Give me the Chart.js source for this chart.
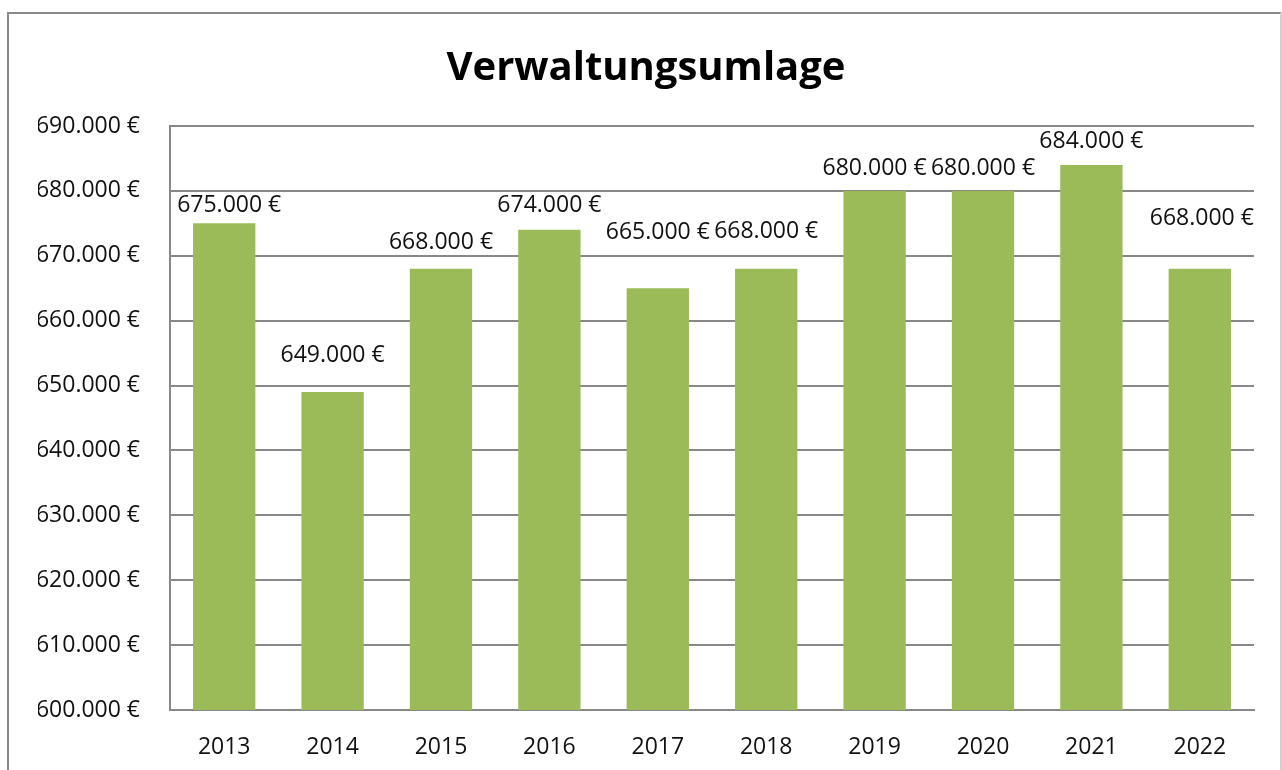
<!DOCTYPE html>
<html>
<head>
<meta charset="utf-8">
<title>Verwaltungsumlage</title>
<script src="https://cdn.jsdelivr.net/npm/chart.js@4"></script>
<style>
  html, body { margin: 0; padding: 0; background: #fff; }
  #chart { display: block; }
</style>
</head>
<body>
<canvas id="chart" width="1282" height="770"></canvas>
<script>
// values
const years = ['2013', '2014', '2015', '2016', '2017', '2018', '2019', '2020', '2021', '2022'];
const amounts = [675000, 649000, 668000, 674000, 665000, 668000, 680000, 680000, 684000, 668000];
const yMin = 600000;
const yMax = 690000;
const yStep = 10000;

// the value labels were nudged by hand in the original, so keep their offsets (px)
const labelDy = [-18, -37, -26, -24, -56, -37, -22, -22, -23, -50];
const labelDx = [5, 0, 0, 0, 0, 0, 0, 0, 0, 2];

const fontFamily = "'Open Sans', 'Noto Sans', sans-serif";

const euro = (v) => String(v).replace(/\B(?=(\d{3})+(?!\d))/g, '.') + ' €';

// grey frame around the chart
const framePlugin = {
  id: 'frame',
  beforeDraw(chart) {
    const ctx = chart.ctx;
    ctx.save();
    ctx.fillStyle = '#fff';
    ctx.fillRect(0, 0, chart.width, chart.height);
    ctx.strokeStyle = '#888';
    ctx.lineWidth = 2;
    ctx.beginPath();
    ctx.moveTo(8, chart.height + 5);
    ctx.lineTo(8, 13);
    ctx.lineTo(1281, 13);
    ctx.stroke();
    ctx.strokeStyle = '#d0d0d0';
    ctx.beginPath();
    ctx.moveTo(1281, 13);
    ctx.lineTo(1281, chart.height + 5);
    ctx.stroke();
    ctx.restore();
  },
};

// value labels above the bars
const valueLabels = {
  id: 'valueLabels',
  afterDatasetsDraw(chart) {
    const ctx = chart.ctx;
    const meta = chart.getDatasetMeta(0);
    ctx.save();
    ctx.font = '23px ' + fontFamily;
    ctx.fillStyle = '#111';
    ctx.textAlign = 'center';
    ctx.textBaseline = 'middle';
    meta.data.forEach((bar, i) => {
      ctx.fillText(euro(amounts[i]), bar.x + labelDx[i], bar.y + labelDy[i]);
    });
    ctx.restore();
  },
};

const ctx = document.getElementById('chart').getContext('2d');

new Chart(ctx, {
  type: 'bar',
  data: {
    labels: years,
    datasets: [
      {
        label: 'Verwaltungsumlage',
        data: amounts,
        backgroundColor: '#9BBB59',
        borderWidth: 0,
        categoryPercentage: 1,
        barPercentage: 0.575,
      },
    ],
  },
  options: {
    responsive: false,
    animation: false,
    devicePixelRatio: 1,
    layout: {
      padding: { left: 38, right: 28, top: 0, bottom: 10 },
    },
    plugins: {
      legend: { display: false },
      tooltip: { enabled: false },
      title: {
        display: true,
        text: 'Verwaltungsumlage',
        color: '#000',
        font: { family: fontFamily, size: 40, weight: 'bold', lineHeight: 1.2 },
        padding: { top: 45, bottom: 33 },
      },
    },
    scales: {
      x: {
        afterFit(scale) {
          scale.height = 50;
        },
        grid: { display: false, drawTicks: false },
        border: { display: true, color: '#888', width: 2 },
        ticks: {
          color: '#111',
          padding: 24,
          font: { family: fontFamily, size: 23 },
        },
      },
      y: {
        min: yMin,
        max: yMax,
        afterFit(scale) {
          scale.width = 132;
        },
        grid: { color: '#888', lineWidth: 2, drawTicks: false },
        border: { display: true, color: '#888', width: 2 },
        ticks: {
          stepSize: yStep,
          color: '#111',
          padding: 30,
          font: { family: fontFamily, size: 23 },
          callback: (value) => euro(value),
        },
      },
    },
  },
  plugins: [framePlugin, valueLabels],
});
</script>
</body>
</html>
